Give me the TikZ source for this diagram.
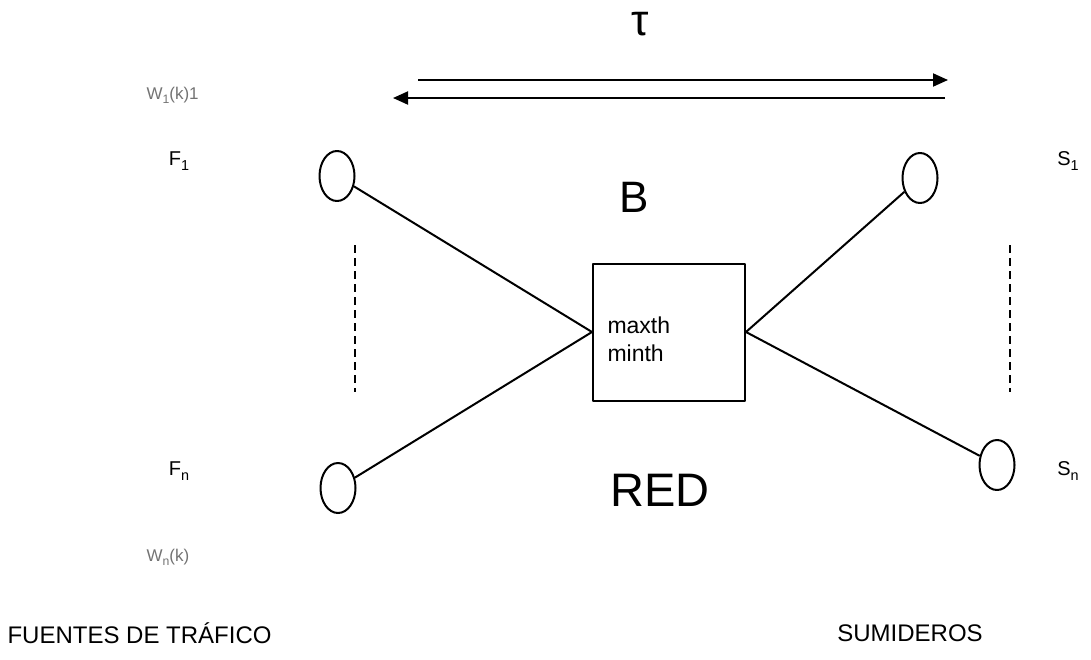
\documentclass[tikz,border=0pt]{standalone}
\usepackage{fontspec}
\setmainfont{Liberation Sans}
\usetikzlibrary{shapes.geometric,arrows.meta}
\newcommand{\bajo}[1]{\raisebox{-0.45ex}{\scalebox{0.72}{#1}}}
\tikzset{
	nodo/.style={draw, ellipse, line width=2pt, minimum width=35pt, minimum height=50pt, inner sep=0pt},
	etiq/.style={font=\fontsize{20}{22}\selectfont},
	gris/.style={font=\fontsize{17}{20}\selectfont, text=black!55},
	grande/.style={font=\fontsize{44}{48}\selectfont},
	linea/.style={line width=2pt},
	puntos/.style={line width=1.8pt, dash pattern=on 8pt off 5pt}
}
\begin{document}
\begin{tikzpicture}[x=1pt, y=-1pt, >={Triangle[length=15pt,width=13pt]}, line join=round]
		\useasboundingbox (0,0) rectangle (1091,659);
		%	\draw[color=gray!50,dashed] (0,0) grid[step=50] (1091,659);
		\node[font=\fontsize{44}{48}\selectfont] (tau) at (640,24) {τ};
		\coordinate (ida1) at (418,80); \coordinate (ida2) at (948,80);
		\coordinate (vuelta1) at (945,98); \coordinate (vuelta2) at (393,98);
		\draw[linea,->] (ida1)--(ida2);
		\draw[linea,->] (vuelta1)--(vuelta2);
		\node[gris, anchor=west] (w1) at (143,95) {W\bajo{1}(k)1};
		\node[gris, anchor=west] (wn) at (143,557) {W\bajo{n}(k)};
		\node[etiq] (f1) at (179,161) {F\bajo{1}};
		\node[etiq] (fn) at (179,471) {F\bajo{n}};
		\node[etiq] (s1) at (1068,161) {S\bajo{1}};
		\node[etiq] (sn) at (1068,471) {S\bajo{n}};
		\node[nodo] (a) at (337,176) {};
		\node[nodo] (b) at (338,488) {};
		\node[nodo] (c) at (920,178) {};
		\node[nodo] (d) at (997,465) {};
		\node[draw, line width=2pt, minimum width=152pt, minimum height=137pt] (red) at (669,332) {};
		\node[font=\fontsize{23}{28}\selectfont, align=left, anchor=west] (umbral) at (604,339) {maxth\\minth};
		\draw[linea] (a)--(red.west);
		\draw[linea] (b)--(red.west);
		\draw[linea] (red.east)--(c);
		\draw[linea] (red.east)--(d);
		\draw[puntos] (355,245)--(355,392);
		\draw[puntos] (1010,245)--(1010,392);
		\node[grande] (ancho) at (634,197) {B};
		\node[font=\fontsize{47}{50}\selectfont] (nombre) at (660,490) {RED};
		\node[font=\fontsize{24}{28}\selectfont, anchor=west] (fuentes) at (4,633) {FUENTES DE TRÁFICO};
		\node[font=\fontsize{24}{28}\selectfont] (sumideros) at (910,633) {SUMIDEROS};
\end{tikzpicture}
\end{document}
